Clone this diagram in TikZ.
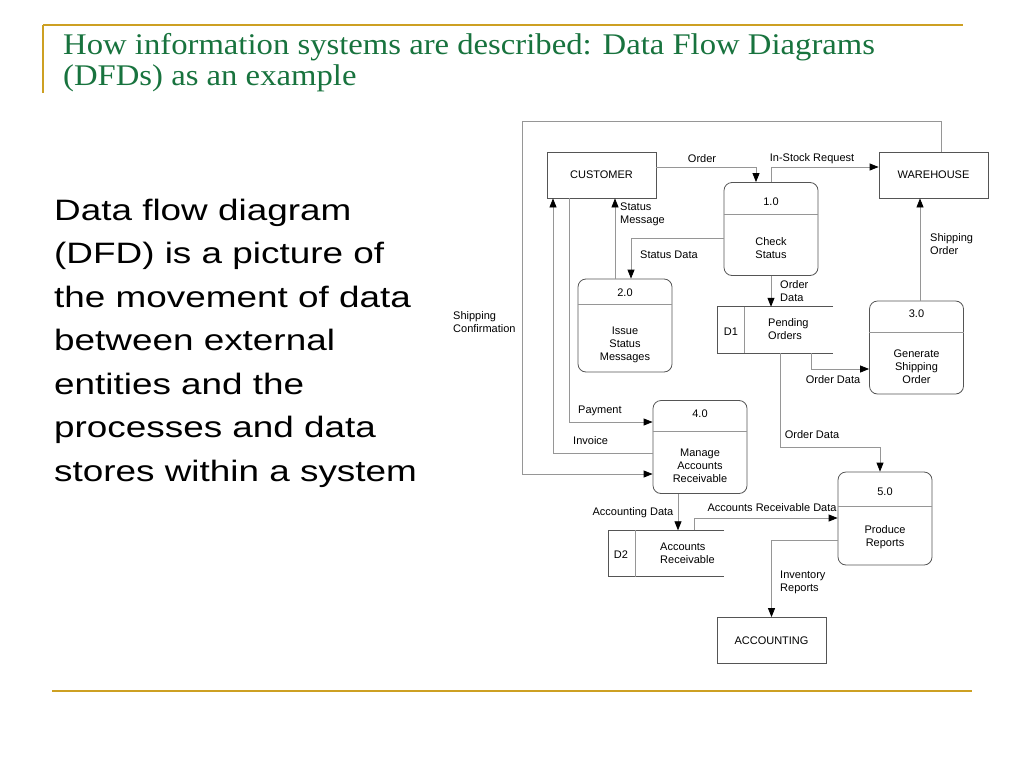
\documentclass[tikz,border=0pt]{standalone}
\usepackage{fontspec}
\setmainfont{Liberation Sans}
\newfontfamily\titlefont[FakeStretch=1.09]{Liberation Serif}
\newfontfamily\bodyfont[FakeStretch=1.25]{Liberation Sans}
\usetikzlibrary{arrows.meta,calc}
\definecolor{gold}{RGB}{205,160,35}
\definecolor{titlegreen}{RGB}{24,115,62}
\definecolor{flowgray}{RGB}{150,150,150}
\definecolor{boxgray}{RGB}{85,85,85}
\begin{document}
\begin{tikzpicture}[x=1pt,y=-1pt,
  font=\fontsize{11}{13}\selectfont,
  entity/.style={draw=boxgray,line width=0.8pt,minimum width=109pt,minimum height=46pt,inner sep=0pt},
  proc/.style={draw=boxgray,line width=0.8pt,rounded corners=8pt,minimum width=94pt,minimum height=93pt,inner sep=0pt},
  store/.style={minimum width=115pt,minimum height=46pt,inner sep=0pt},
  storeline/.style={draw=boxgray,line width=0.8pt},
  divline/.style={draw=flowgray,line width=0.8pt},
  flow/.style={draw=flowgray,line width=0.8pt,-{Triangle[color=black,length=9pt,width=7pt]}},
  lbl/.style={inner sep=0pt,align=left},
  txt/.style={inner sep=0pt,align=center},
  goldline/.style={draw=gold,line width=2.5pt}]
\useasboundingbox (0,0) rectangle (1024,768);
% frame lines
\draw[goldline] (43,25) -- (963,25);
\draw[goldline] (43,25) -- (43,93);
\draw[goldline] (52,691) -- (972,691);
% title
\node[anchor=base west,inner sep=0pt,text=titlegreen,font=\titlefont\fontsize{30}{30}\selectfont] (t1) at (63,55) {How information systems are described: Data Flow Diagrams};
\node[anchor=base west,inner sep=0pt,text=titlegreen,font=\titlefont\fontsize{30}{30}\selectfont] (t2) at (63,85) {(DFDs) as an example};
% body text
\foreach \i/\s in {0/Data flow diagram,1/(DFD) is a picture of,2/the movement of data,3/between external,4/entities and the,5/processes and data,6/stores within a system}{
  \node[anchor=base west,inner sep=0pt,font=\bodyfont\fontsize{29.5}{43}\selectfont] (b\i) at (54,220+43.5*\i) {\s};
}
% entities
\node[entity] (cust) at (601.5,175) {CUSTOMER};
\node[entity] (wh) at (933.5,175) {WAREHOUSE};
\node[entity] (acc) at (771.5,640.5) {ACCOUNTING};
% processes
\node[proc] (p1) at (771,229) {};
\draw[divline] (p1.west |- 0,214) -- (p1.east |- 0,214);
\node[txt] (p1n) at (771,202) {1.0};
\node[txt] (p1t) at (771,248.5) {Check\\Status};
\node[proc] (p2) at (625,325.5) {};
\draw[divline] (p2.west |- 0,304) -- (p2.east |- 0,304);
\node[txt] (p2n) at (625,293) {2.0};
\node[txt] (p2t) at (625,345) {Issue\\Status\\Messages};
\node[proc] (p3) at (916.5,347.5) {};
\draw[divline] (p3.west |- 0,332) -- (p3.east |- 0,332);
\node[txt] (p3n) at (916.5,314) {3.0};
\node[txt] (p3t) at (916.5,367) {Generate\\Shipping\\Order};
\node[proc] (p4) at (700,447) {};
\draw[divline] (p4.west |- 0,431) -- (p4.east |- 0,431);
\node[txt] (p4n) at (700,414) {4.0};
\node[txt] (p4t) at (700,466) {Manage\\Accounts\\Receivable};
\node[proc] (p5) at (885,518.5) {};
\draw[divline] (p5.west |- 0,506) -- (p5.east |- 0,506);
\node[txt] (p5n) at (885,492) {5.0};
\node[txt] (p5t) at (885,537.5) {Produce\\Reports};
% data stores
\node[store] (d1) at (775.5,330) {};
\draw[storeline] (d1.north east) -- (d1.north west) -- (d1.south west) -- (d1.south east);
\draw[divline] (d1.north -| 744,0) -- (d1.south -| 744,0);
\node[txt] (d1n) at (731,332) {D1};
\node[lbl,anchor=west] (d1t) at (768,329.5) {Pending\\Orders};
\node[store] (d2) at (666.5,553.5) {};
\draw[storeline] (d2.north east) -- (d2.north west) -- (d2.south west) -- (d2.south east);
\draw[divline] (d2.north -| 635,0) -- (d2.south -| 635,0);
\node[txt] (d2n) at (621,555) {D2};
\node[lbl,anchor=west] (d2t) at (660,553.5) {Accounts\\Receivable};
% connectors
\draw[flow] (cust.east |- 0,167) -| (p1.north -| 756,0);
\draw[flow] (p1.north) |- (wh.west |- 0,167);
\draw[flow] (p1.west |- 0,238) -| (p2.north -| 631,0);
\draw[flow] (p2.north -| 615,0) -- (cust.south -| 615,0);
\draw[flow] (p1.south) -- (d1.north -| p1.south);
\draw[flow] (p3.north -| 920,0) -- (wh.south -| 920,0);
\draw[flow] (d1.south -| 811,0) |- (p3.west |- 0,369);
\coordinate (od5) at (880,447);
\draw[flow] (d1.south -| 780,0) |- (od5) -- (p5.north -| od5);
\draw[flow] (cust.south -| 569,0) |- (p4.west |- 0,422);
\draw[flow] (p4.west |- 0,453) -| (cust.south -| 553,0);
\coordinate (sc) at (522,121);
\draw[flow] (wh.north -| 941,0) |- (sc) |- (p4.west |- 0,474);
\draw[flow] (p4.south -| 678,0) -- (d2.north -| 678,0);
\draw[flow] (d2.north -| 694,0) |- (p5.west |- 0,518);
\draw[flow] (p5.west |- 0,540) -| (acc.north);
% connector labels
\node[txt] (lorder) at (702,159) {Order};
\node[txt] (lstock) at (812,159) {In-Stock Request};
\node[lbl,anchor=west] (lsmsg) at (620,214.5) {Status\\Message};
\node[lbl,anchor=west] (lsdata) at (640,255) {Status Data};
\node[lbl,anchor=west] (lod1) at (780,291.5) {Order\\Data};
\node[lbl,anchor=west] (lso) at (930,244.5) {Shipping\\Order};
\node[lbl,anchor=west] (lsc) at (453,322) {Shipping\\Confirmation};
\node[txt] (lod2) at (833,380) {Order Data};
\node[txt] (lod3) at (812,435) {Order Data};
\node[lbl,anchor=west] (lpay) at (578,411) {Payment};
\node[lbl,anchor=west] (linv) at (573,441) {Invoice};
\node[txt] (lacd) at (633,513) {Accounting Data};
\node[txt] (lard) at (772,508) {Accounts Receivable Data};
\node[lbl,anchor=west] (linr) at (780,582.5) {Inventory\\Reports};
\end{tikzpicture}
\end{document}
